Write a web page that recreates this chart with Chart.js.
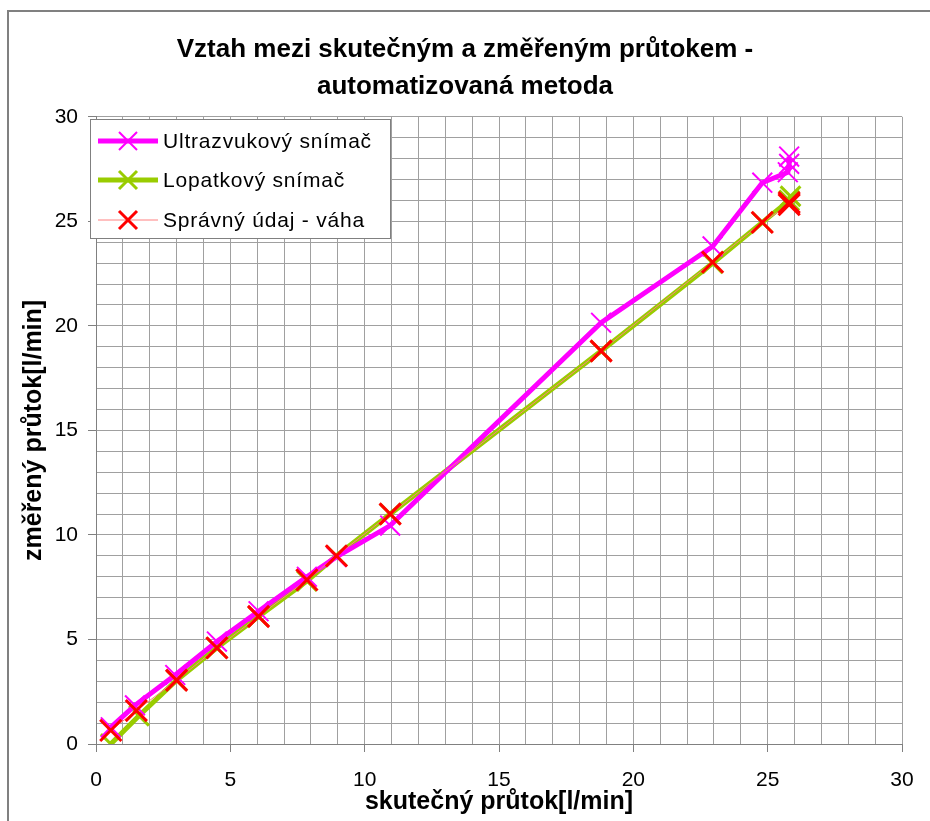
<!DOCTYPE html>
<html lang="cs">
<head>
<meta charset="utf-8">
<title>Vztah mezi skutečným a změřeným průtokem</title>
<script src="https://cdn.jsdelivr.net/npm/chart.js@4.4.1/dist/chart.umd.min.js"></script>
<style>
  html, body { margin: 0; padding: 0; background: #fff; }
  #wrap { position: relative; width: 930px; height: 821px; overflow: hidden; }
  #frame { position: absolute; left: 7px; top: 10px; width: 940px; height: 830px;
           border-left: 2px solid #808080; border-top: 2px solid #808080; }
  canvas { position: absolute; left: 0; top: 0; }
</style>
</head>
<body>
<div id="wrap">
  <div id="frame"></div>
  <canvas id="graf" width="930" height="821"></canvas>
</div>
<script>
'use strict';

// Ultrazvukový snímač
const ultraX = [0.55, 1.45, 2.95, 4.5, 6.05, 7.85, 8.95, 10.95, 18.8, 22.95, 24.8, 25.75, 25.8, 25.8];
const ultraY = [0.8, 1.85, 3.3, 4.9, 6.35, 8.0, 8.95, 10.45, 20.15, 23.8, 26.85, 27.35, 27.75, 28.1];

// Lopatkový snímač
const lopatX = [0.55, 1.6, 3.0, 4.5, 6.05, 7.85, 8.95, 10.95, 18.8, 22.95, 24.8, 25.8, 25.85];
const lopatY = [0.0, 1.35, 3.05, 4.6, 6.1, 7.8, 9.0, 11.0, 18.8, 23.0, 24.95, 26.0, 26.2];

// Správný údaj - váha
const vahaX = [0.55, 1.5, 3.0, 4.5, 6.05, 7.85, 8.95, 10.95, 18.8, 22.95, 24.8, 25.8, 25.8];
const vahaY = [0.65, 1.6, 3.05, 4.6, 6.1, 7.85, 9.0, 11.0, 18.8, 23.05, 24.95, 25.8, 25.9];

const labels = ['Ultrazvukový snímač', 'Lopatkový snímač', 'Správný údaj - váha'];
const titleLines = ['Vztah mezi skutečným a změřeným průtokem -', 'automatizovaná metoda'];
const axisMin = 0, axisMax = 30;

const FONT = "'Liberation Sans', Arial, sans-serif";

function body(xs, ys) {
  return xs.map((x, i) => ({ x: x, y: ys[i] }));
}

// legenda uvnitř grafu s rámečkem
const legendaUvnitr = {
  id: 'legendaUvnitr',
  afterDraw(chart) {
    const c = chart.ctx;
    const bx = 90, by = 119, bw = 300, bh = 119;
    c.save();
    c.fillStyle = '#fff';
    c.fillRect(bx, by, bw, bh);
    c.strokeStyle = '#808080';
    c.lineWidth = 1;
    c.strokeRect(bx + 0.5, by + 0.5, bw, bh);
    const rows = [141, 180, 220];
    [0, 1, 2].forEach(i => {
      const ds = chart.data.datasets.find(d => d.legendIdx === i);
      const y = rows[i];
      c.strokeStyle = ds.borderColor;
      c.lineWidth = ds.borderWidth;
      c.beginPath(); c.moveTo(98, y); c.lineTo(158, y); c.stroke();
      const r = 9;
      c.strokeStyle = ds.pointBorderColor;
      c.lineWidth = ds.pointBorderWidth;
      c.beginPath();
      c.moveTo(128 - r, y - r); c.lineTo(128 + r, y + r);
      c.moveTo(128 - r, y + r); c.lineTo(128 + r, y - r);
      c.stroke();
      c.fillStyle = '#000';
      c.font = '21px ' + FONT;
      c.letterSpacing = '0.8px';
      c.textBaseline = 'middle';
      c.fillText(ds.label, 163, y + 1);
    });
    c.restore();
  }
};

function osa(title, pos) {
  return {
    type: 'linear',
    position: pos,
    min: axisMin,
    max: axisMax,
    ticks: {
      stepSize: 1,
      autoSkip: false,
      maxRotation: 0,
      color: '#000',
      font: { size: 21, family: FONT },
      padding: pos === 'left' ? 10 : 16,
      callback: v => (v % 5 === 0 ? v : '')
    },
    grid: {
      color: '#a0a0a0',
      lineWidth: 1,
      tickLength: 8,
      tickColor: ctx => (ctx.tick && ctx.tick.value % 5 === 0 ? '#808080' : 'rgba(0,0,0,0)')
    },
    border: { display: true, color: '#808080', width: 1 },
    title: {
      display: true,
      text: title,
      color: '#000',
      font: { size: 25, weight: 'bold', family: FONT, lineHeight: 1.2 },
      padding: pos === 'left' ? { top: -9, bottom: 0 } : { top: 0, bottom: 4 }
    },
    afterFit: s => {
      if (pos === 'left') s.width = 68;
      else s.height = 77;
    }
  };
}

new Chart(document.getElementById('graf'), {
  type: 'scatter',
  data: {
    datasets: [
      {
        label: labels[2], legendIdx: 2, order: 0,
        data: body(vahaX, vahaY), showLine: true,
        borderColor: '#ff8080', borderWidth: 1,
        pointStyle: 'crossRot', pointRadius: 15, pointBorderColor: '#ff0000',
        pointBorderWidth: 3, pointHoverRadius: 15
      },
      {
        label: labels[0], legendIdx: 0, order: 1,
        data: body(ultraX, ultraY), showLine: true,
        borderColor: '#ff00ff', borderWidth: 5,
        pointStyle: 'crossRot', pointRadius: 14, pointBorderColor: '#ff00ff',
        pointBorderWidth: 2, pointHoverRadius: 14
      },
      {
        label: labels[1], legendIdx: 1, order: 2,
        data: body(lopatX, lopatY), showLine: true,
        borderColor: '#99cc00', borderWidth: 5,
        pointStyle: 'crossRot', pointRadius: 14, pointBorderColor: '#99cc00',
        pointBorderWidth: 3, pointHoverRadius: 14
      }
    ]
  },
  options: {
    responsive: false,
    animation: false,
    layout: { padding: { left: 28, right: 28, top: 0, bottom: 0 } },
    plugins: {
      legend: { display: false },
      tooltip: { enabled: false },
      title: {
        display: true,
        text: titleLines,
        color: '#000',
        font: { size: 26, weight: 'bold', family: FONT, lineHeight: 1.42 },
        padding: { top: 31, bottom: 12 }
      }
    },
    scales: {
      x: osa('skutečný průtok[l/min]', 'bottom'),
      y: osa('změřený průtok[l/min]', 'left')
    }
  },
  plugins: [legendaUvnitr]
});
</script>
</body>
</html>
